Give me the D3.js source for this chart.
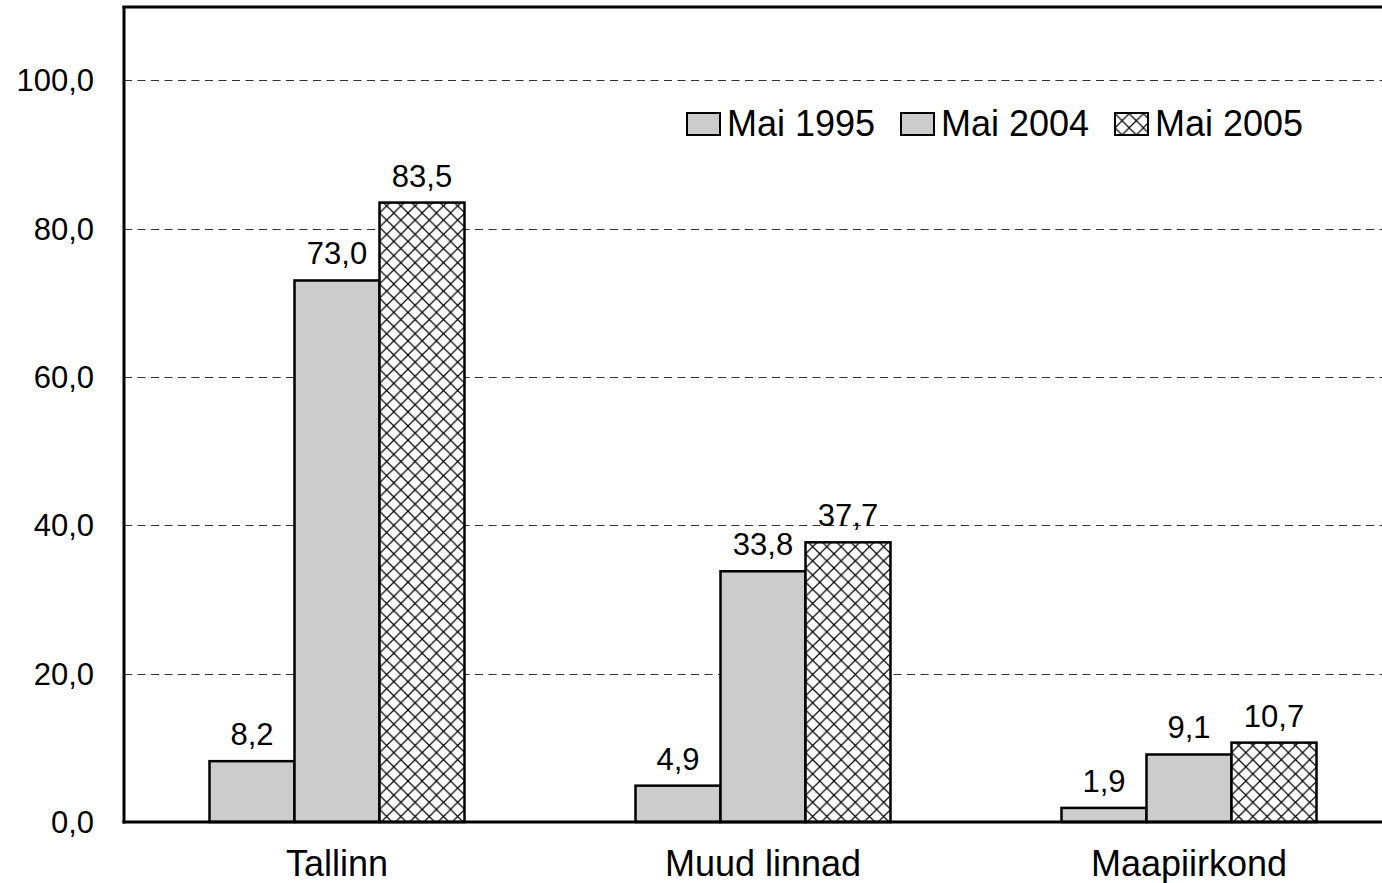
<!DOCTYPE html>
<html>
<head>
<meta charset="utf-8">
<script src="https://cdn.jsdelivr.net/npm/d3@7"></script>
<style>
  html, body { margin: 0; padding: 0; background: #fff; }
  svg { display: block; font-family: "Liberation Sans", Arial, sans-serif; }
</style>
</head>
<body>
<svg id="chart" width="1382" height="883"></svg>
<script>
// ---- data ----
const categories = ["Tallinn", "Muud linnad", "Maapiirkond"];
const seriesNames = ["Mai 1995", "Mai 2004", "Mai 2005"];
const may1995 = [8.2, 4.9, 1.9];
const may2004 = [73.0, 33.8, 9.1];
const may2005 = [83.5, 37.7, 10.7];
const yTicks = [0, 20, 40, 60, 80, 100];

const seriesValues = [may1995, may2004, may2005];
const seriesFill = ["#cccccc", "#cccccc", "url(#cross)"];

const locale = d3.formatLocale({ decimal: ",", thousands: " ", grouping: [3], currency: ["", ""] });
const fmt = locale.format(".1f");

const svg = d3.select("#chart");
const W = 1382, H = 883;
const mLeft = 124, mTop = 6, mBottom = 822;

// pattern
const defs = svg.append("defs");
const pat = defs.append("pattern")
  .attr("id", "cross").attr("patternUnits", "userSpaceOnUse")
  .attr("width", 14.2).attr("height", 14.2);
pat.append("rect").attr("width", 14.2).attr("height", 14.2).attr("fill", "#fff");
pat.append("path").attr("d", "M0,0L14.2,14.2M14.2,0L0,14.2M-1,1L1,-1M13.2,15.2L15.2,13.2")
  .attr("stroke", "#000").attr("stroke-width", 1.2);

const y = d3.scaleLinear().domain([0, 110]).range([mBottom, mTop]);
const x0 = d3.scaleBand().domain(categories).range([mLeft, mLeft + 3 * 426]).paddingInner(0).paddingOuter(0);
const x1 = d3.scaleBand().domain(seriesNames).range([85.5, 85.5 + 255]);

// gridlines
svg.append("g").selectAll("line")
  .data(yTicks.filter(d => d > 0))
  .join("line")
  .attr("x1", mLeft).attr("x2", W)
  .attr("y1", d => Math.round(y(d)) + 0.5).attr("y2", d => Math.round(y(d)) + 0.5)
  .attr("stroke", "#333").attr("stroke-width", 1)
  .attr("stroke-dasharray", "8,5.5");

// y tick labels
svg.append("g").selectAll("text")
  .data(yTicks)
  .join("text")
  .attr("x", 94).attr("y", d => y(d))
  .attr("dy", "0.36em")
  .attr("text-anchor", "end")
  .attr("font-size", 31)
  .attr("fill", "#000")
  .text(d => fmt(d));

// bars
const groups = svg.append("g").selectAll("g")
  .data(categories)
  .join("g")
  .attr("transform", d => `translate(${x0(d)},0)`);

groups.selectAll("rect")
  .data((c, ci) => seriesNames.map((s, si) => ({ s, si, v: seriesValues[si][ci] })))
  .join("rect")
  .attr("x", d => x1(d.s))
  .attr("y", d => y(d.v))
  .attr("width", x1.bandwidth())
  .attr("height", d => mBottom - y(d.v))
  .attr("fill", d => seriesFill[d.si])
  .attr("stroke", "#000").attr("stroke-width", 2.5);

groups.selectAll("text")
  .data((c, ci) => seriesNames.map((s, si) => ({ s, si, v: seriesValues[si][ci] })))
  .join("text")
  .attr("x", d => x1(d.s) + x1.bandwidth() / 2)
  .attr("y", d => y(d.v) - 16)
  .attr("text-anchor", "middle")
  .attr("font-size", 31)
  .text(d => fmt(d.v));

// axes frame
svg.append("line").attr("x1", mLeft).attr("x2", mLeft).attr("y1", mTop).attr("y2", mBottom + 1.5)
  .attr("stroke", "#000").attr("stroke-width", 3);
svg.append("line").attr("x1", mLeft - 1.5).attr("x2", W).attr("y1", mTop + 1).attr("y2", mTop + 1)
  .attr("stroke", "#000").attr("stroke-width", 3);
svg.append("line").attr("x1", mLeft - 1.5).attr("x2", W).attr("y1", mBottom).attr("y2", mBottom)
  .attr("stroke", "#000").attr("stroke-width", 3);

// category labels
svg.append("g").selectAll("text")
  .data(categories)
  .join("text")
  .attr("x", d => x0(d) + 213)
  .attr("y", 876)
  .attr("text-anchor", "middle")
  .attr("font-size", 36)
  .text(d => d);

// legend
const legendX = [687, 901, 1115];
const lg = svg.append("g").selectAll("g")
  .data(seriesNames)
  .join("g")
  .attr("transform", (d, i) => `translate(${legendX[i]},0)`);
lg.append("rect").attr("x", 0).attr("y", 113).attr("width", 33).attr("height", 22)
  .attr("fill", (d, i) => seriesFill[i]).attr("stroke", "#000").attr("stroke-width", 2);
lg.append("text").attr("x", 40).attr("y", 136).attr("font-size", 36).text(d => d);
</script>
</body>
</html>
